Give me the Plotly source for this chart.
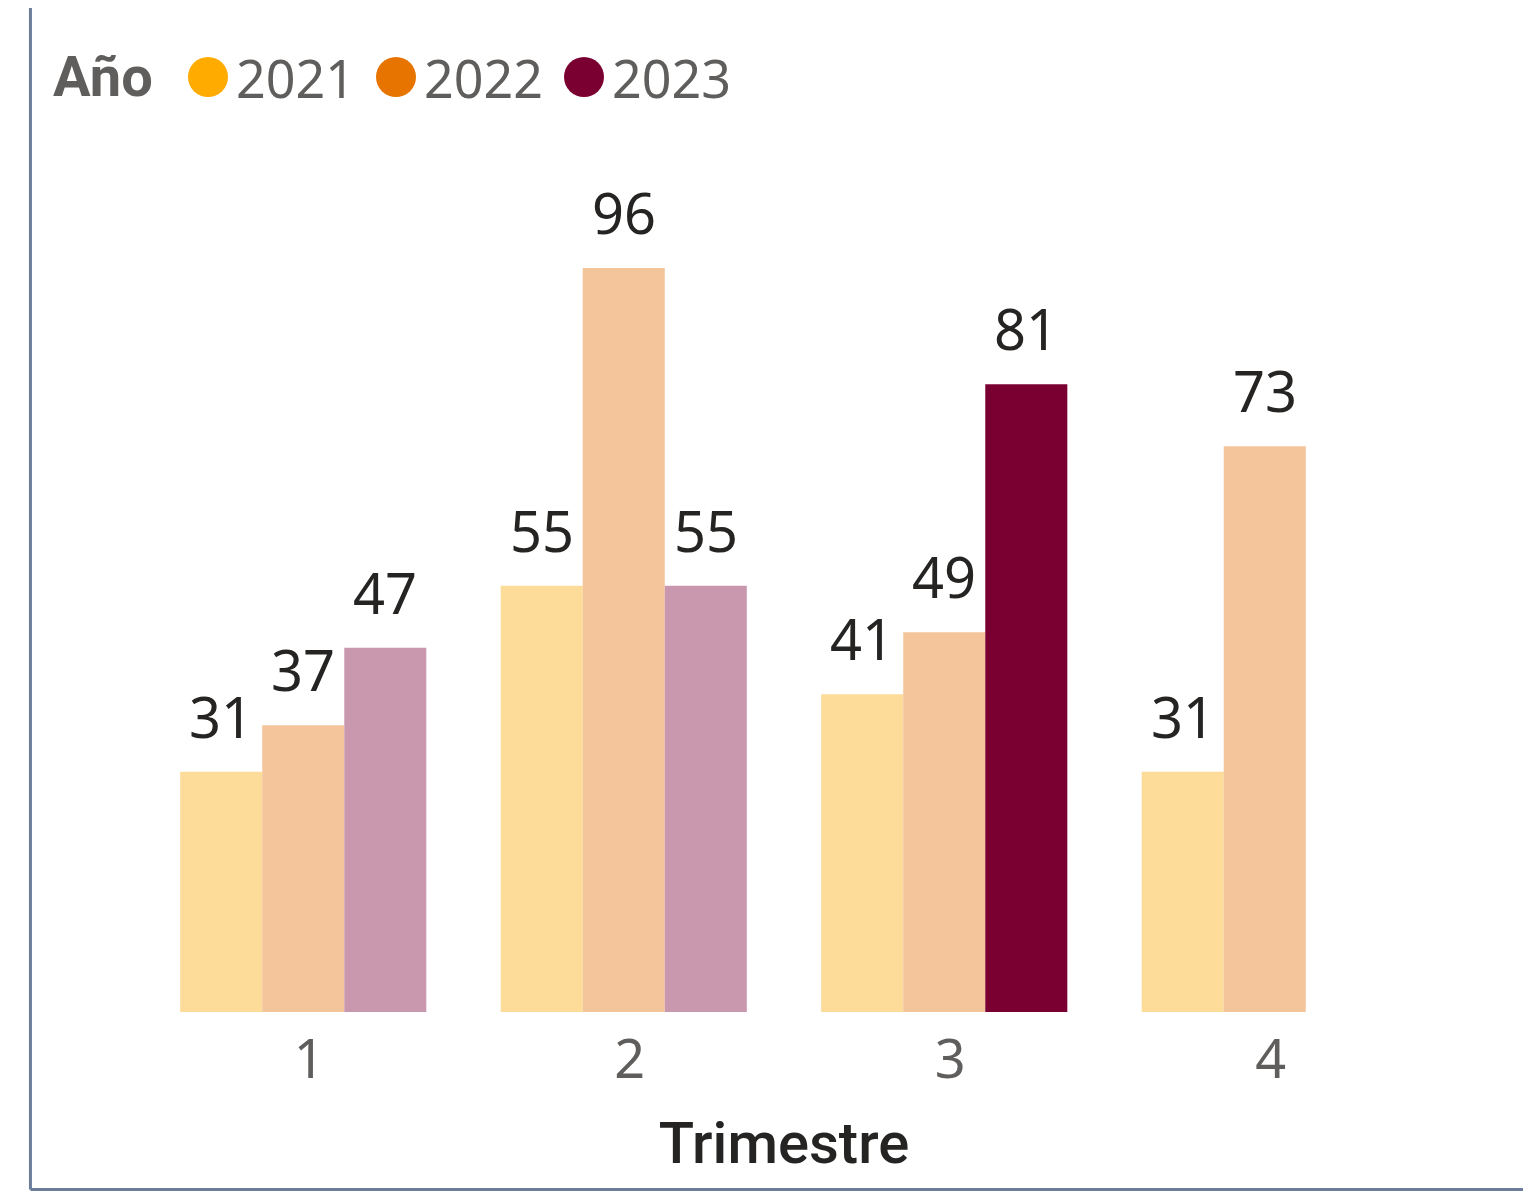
"""
Clustered bar chart: value per quarter (Trimestre) by year (Año).
"""
import plotly.graph_objects as go

# Data
QUARTERS = ["1", "2", "3", "4"]
YEARS = ["2021", "2022", "2023"]
VALUES = {
    "2021": [31, 55, 41, 31],
    "2022": [37, 96, 49, 73],
    "2023": [47, 55, 81, None],
}
# the one bar that is selected (full colour), the rest are faded
HIGHLIGHT = ("2023", "3")

COLORS = {"2021": "#FFAB00", "2022": "#E87400", "2023": "#7B0032"}
FADED = {"2021": "#FDDB98", "2022": "#F4C59B", "2023": "#CA98AE"}

LABEL_FONT = "Noto Sans, Open Sans, sans-serif"
TITLE_FONT = "Roboto, Lato, sans-serif"
FRAME = "#6C7D9A"
BAR_PX = 82  # width of one bar in pixels, used to sit labels over their bar

fig = go.Figure()
annotations = []

for i, year in enumerate(YEARS):
    colors = [
        COLORS[year] if (year, q) == HIGHLIGHT else FADED[year] for q in QUARTERS
    ]
    fig.add_trace(
        go.Bar(
            x=QUARTERS,
            y=VALUES[year],
            name=year,
            marker=dict(color=colors, line=dict(width=0)),
            showlegend=False,
        )
    )
    # data labels, a bit higher above the bar than plotly's own outside text
    for j, v in enumerate(VALUES[year]):
        if v is None:
            continue
        annotations.append(
            dict(
                text=str(v), x=j, y=v, xref="x", yref="y",
                xanchor="center", yanchor="bottom",
                xshift=(i - 1) * BAR_PX, yshift=16, showarrow=False,
                font=dict(family=LABEL_FONT, size=56, color="#252423"),
            )
        )

# custom legend with big round markers (plotly caps legend marker size)
annotations.append(
    dict(
        text="<b>Año</b>", xref="paper", yref="paper", x=0, y=1,
        xanchor="left", yanchor="middle", xshift=-92, yshift=5,
        showarrow=False, font=dict(family=TITLE_FONT, size=56, color="#605E5C"),
    )
)
shapes = []
legend_x = {"2021": 45, "2022": 233, "2023": 421}
for year in YEARS:
    x0 = legend_x[year]
    shapes.append(
        dict(
            type="circle", xref="paper", yref="paper",
            xsizemode="pixel", ysizemode="pixel", xanchor=0, yanchor=1,
            x0=x0, x1=x0 + 40, y0=-15, y1=25,
            fillcolor=COLORS[year], line=dict(width=0),
        )
    )
    annotations.append(
        dict(
            text=year, xref="paper", yref="paper", x=0, y=1,
            xanchor="left", yanchor="middle", xshift=x0 + 46, yshift=5,
            showarrow=False, font=dict(family=LABEL_FONT, size=52, color="#605E5C"),
        )
    )

# frame lines on the left and bottom of the visual
shapes.append(dict(type="line", xref="paper", yref="paper",
                   x0=-0.0878, x1=-0.0878, y0=-0.1909, y1=1.2,
                   line=dict(color=FRAME, width=3)))
shapes.append(dict(type="line", xref="paper", yref="paper",
                   x0=-0.0878, x1=1.2, y0=-0.1909, y1=-0.1909,
                   line=dict(color=FRAME, width=3)))

fig.update_layout(
    width=1531,
    height=1201,
    barmode="group",
    bargap=0.232,
    bargroupgap=0,
    plot_bgcolor="white",
    paper_bgcolor="white",
    margin=dict(l=135, r=114, t=74, b=197),
    showlegend=False,
    annotations=annotations,
    shapes=shapes,
    xaxis=dict(
        type="category",
        range=[-0.5, 3.5],
        showgrid=False,
        showline=False,
        zeroline=False,
        ticks="",
        ticklabelstandoff=11,
        ticklabelshift=6,
        tickfont=dict(family=LABEL_FONT, size=54, color="#605E5C"),
        title=dict(
            text="Trimestre",
            font=dict(family=TITLE_FONT, size=58, color="#252423", weight=500),
            standoff=29,
        ),
    ),
    yaxis=dict(
        range=[0, 120],
        visible=False,
        showgrid=False,
        zeroline=False,
    ),
)

fig.write_html("out.html")
